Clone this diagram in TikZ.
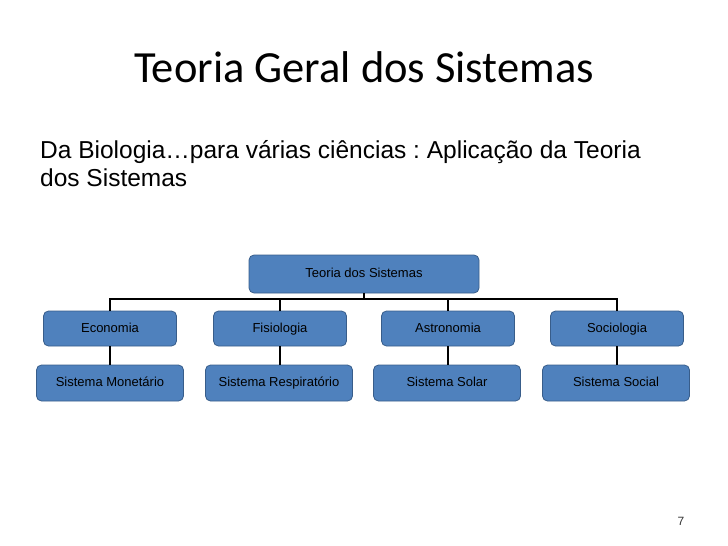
\documentclass[tikz,border=0pt]{standalone}
\usepackage{fontspec}
\setmainfont{Liberation Sans}
\newfontfamily\titlefont{Carlito}
\definecolor{boxfill}{HTML}{4F81BD}
\definecolor{boxline}{HTML}{385D8A}
\frenchspacing
\begin{document}
\begin{tikzpicture}[x=1pt,y=-1pt,
  box/.style={draw=boxline,fill=boxfill,rounded corners=5pt,line width=0.8pt,
    inner sep=0pt,font=\fontsize{13}{15}\selectfont,text=black,
    text height=9.5pt,text depth=2.5pt},
  link/.style={draw=black,line width=1.6pt},
  body/.style={anchor=base west,font=\frenchspacing\fontsize{24.5}{29}\selectfont,inner sep=0pt}]
\useasboundingbox (0,0) rectangle (728,546);
\node[anchor=base,font=\titlefont\fontsize{44.5}{50}\selectfont,inner sep=0pt] (title) at (364,82) {Teoria Geral dos Sistemas};
\node[body] (l1) at (40,158) {Da Biologia…para várias ciências : Aplicação da Teoria};
\node[body] (l2) at (40,186) {dos Sistemas};
\node[box,minimum width=230pt,minimum height=38pt] (root) at (364,274) {Teoria dos Sistemas};
\foreach \n/\x/\t in {a/110/Economia,b/280/Fisiologia,c/448/Astronomia,d/617/Sociologia}{
  \node[box,minimum width=133pt,minimum height=35pt] (\n) at (\x,328.5) {\t};
}
\foreach \n/\x/\t in {a/110/Sistema Monetário,b/279/Sistema Respiratório,c/447/Sistema Solar,d/616/Sistema Social}{
  \node[box,minimum width=147pt,minimum height=36pt] (\n2) at (\x,383) {\t};
}
\coordinate (bus) at (364,299);
\draw[link] (root.south) -- (bus);
\draw[link] (a.north) |- (bus) -| (d.north);
\draw[link] (b.north) -- (b.north |- bus);
\draw[link] (c.north) -- (c.north |- bus);
\foreach \n in {a,b,c,d}{\draw[link] (\n.south) -- (\n.south |- \n2.north);}
\node[anchor=base,font=\fontsize{12}{14}\selectfont,text=black!80,inner sep=0pt] (pg) at (681,525) {7};
\end{tikzpicture}
\end{document}
